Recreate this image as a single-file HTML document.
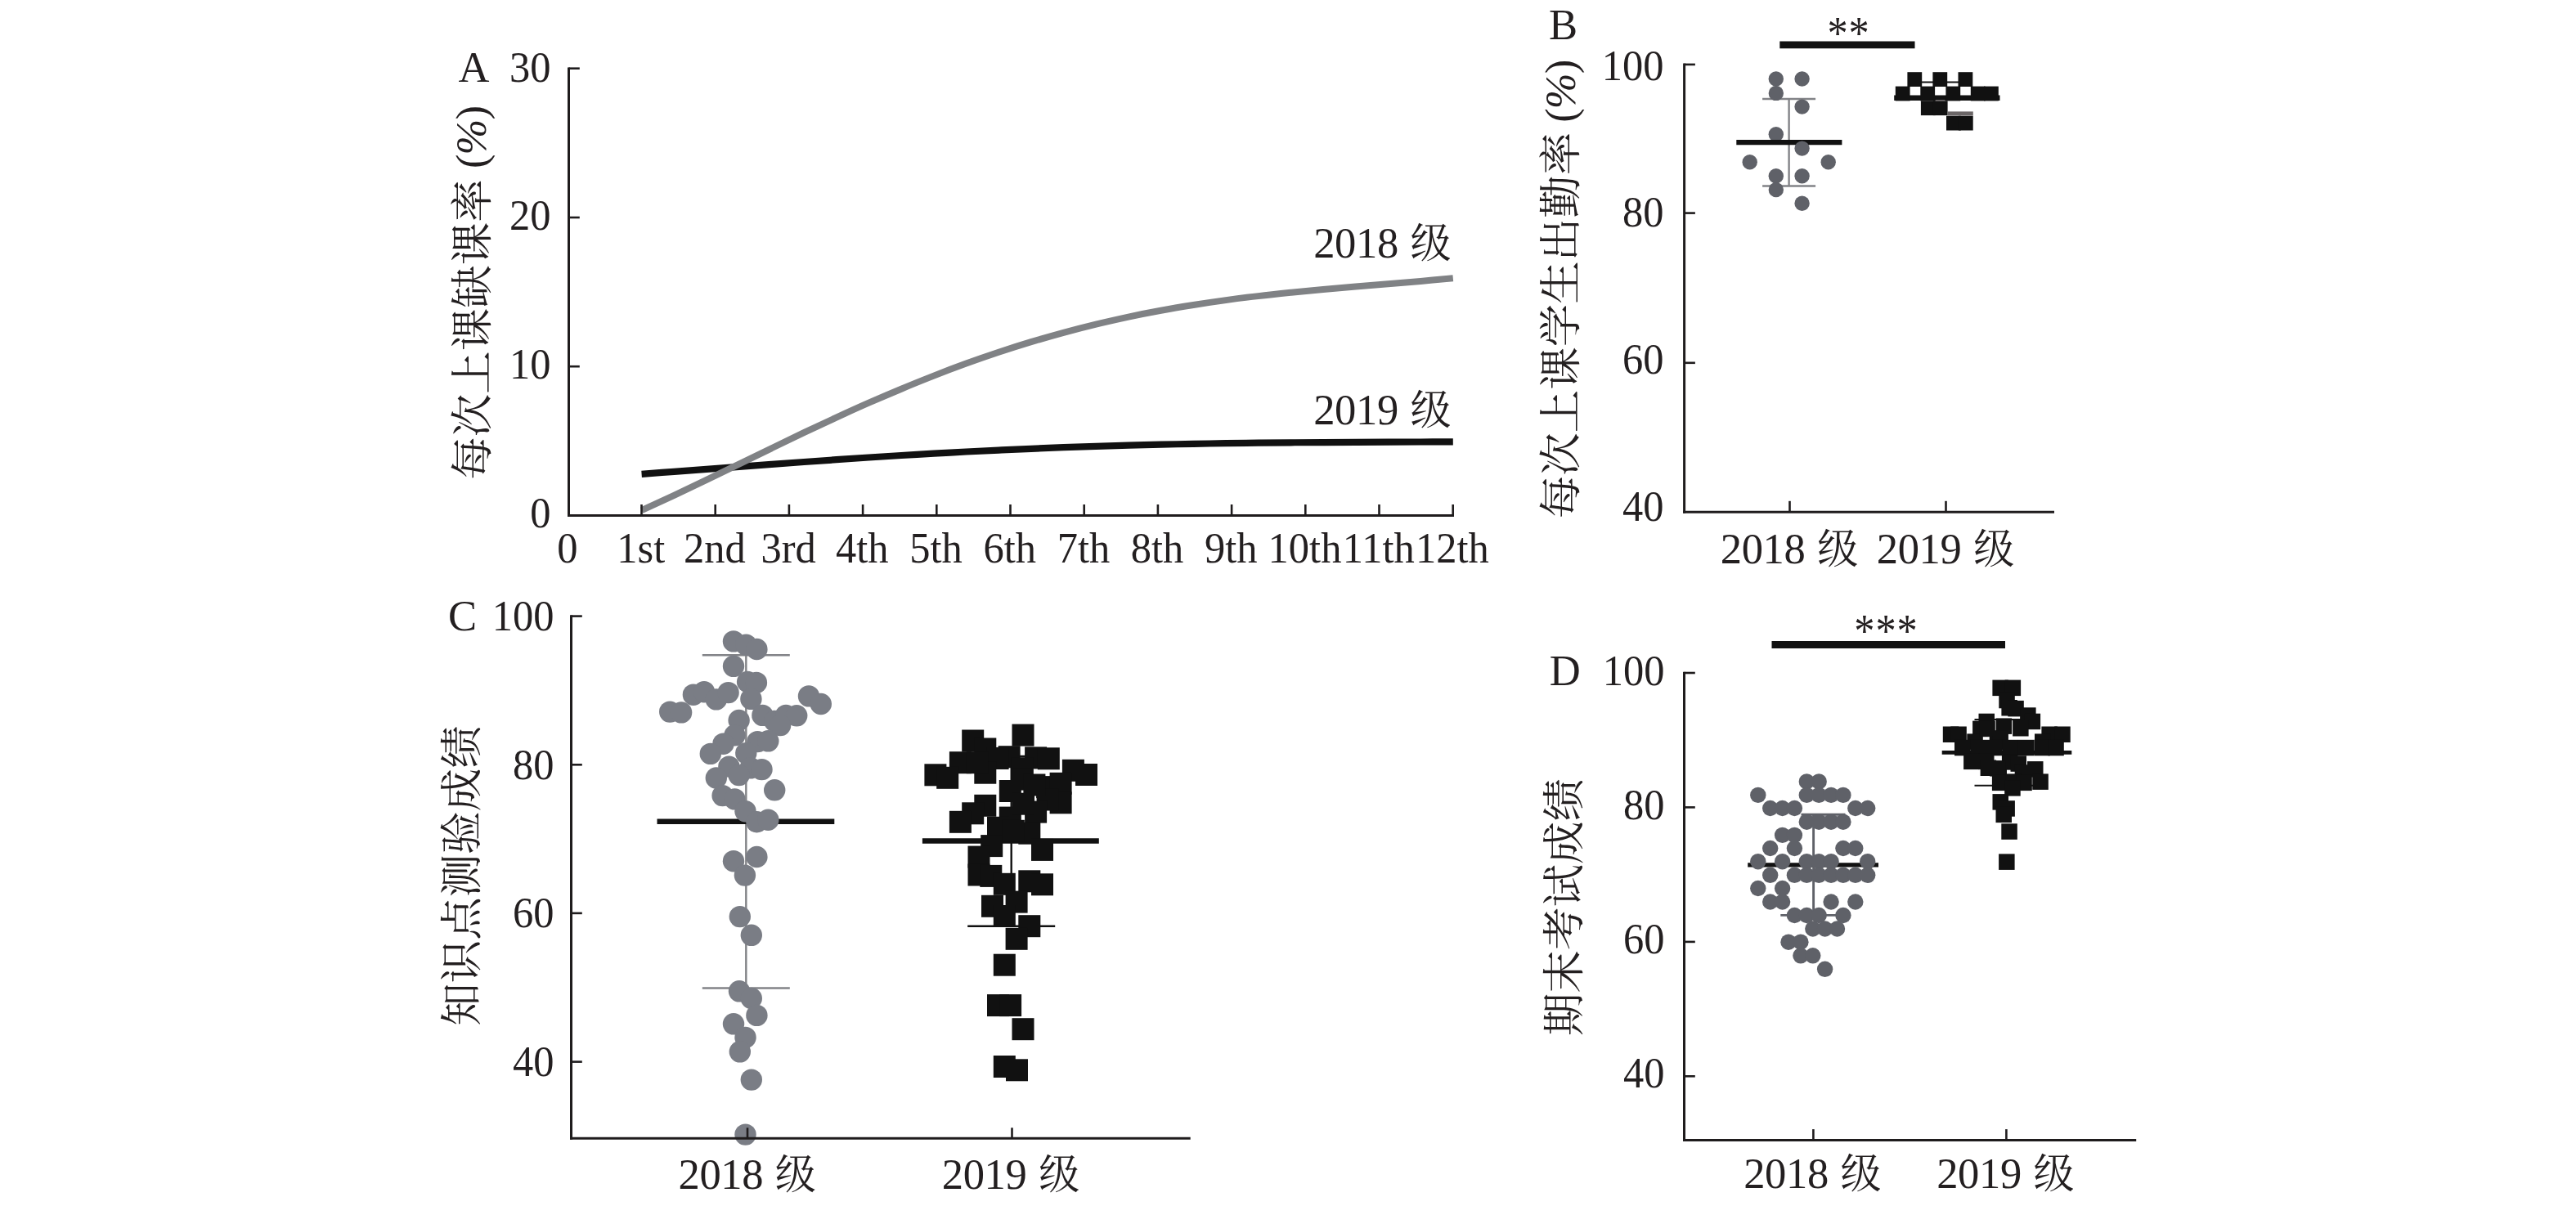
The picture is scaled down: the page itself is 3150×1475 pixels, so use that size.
<!DOCTYPE html>
<html lang="zh-CN">
<head>
<meta charset="utf-8">
<title>Figure</title>
<style>
html,body{margin:0;padding:0;background:#fff;}
body{width:3150px;height:1475px;overflow:hidden;}
svg{display:block;}
.t{font-family:"Liberation Serif","Noto Serif CJK SC",serif;fill:#231f20;}
.c{font-family:"Noto Serif CJK SC","Liberation Serif",serif;font-weight:400;font-size:52.5px;}
.l{font-family:"Liberation Serif","Noto Serif CJK SC",serif;font-size:52.6px;letter-spacing:-0.85px;}
</style>
</head>
<body>
<svg width="3150" height="1475" viewBox="0 0 3150 1475">
<rect x="0" y="0" width="3150" height="1475" fill="#ffffff"/>
<g id="panelA">
<path d="M784.6,579.8 C791.2,579.3 811.1,577.8 824.3,576.8 C837.5,575.8 850.7,574.8 864.0,573.8 C877.2,572.8 890.4,571.8 903.7,570.8 C916.9,569.8 930.1,568.8 943.4,567.9 C956.6,566.9 969.8,565.9 983.0,565.0 C996.3,564.0 1009.5,563.1 1022.7,562.2 C1036.0,561.3 1049.2,560.4 1062.4,559.5 C1075.6,558.7 1088.9,557.8 1102.1,557.0 C1115.3,556.2 1128.6,555.4 1141.8,554.7 C1155.0,554.0 1168.3,553.2 1181.5,552.5 C1194.7,551.9 1207.9,551.2 1221.2,550.6 C1234.4,549.9 1247.6,549.4 1260.9,548.8 C1274.1,548.2 1287.3,547.7 1300.5,547.2 C1313.8,546.7 1327.0,546.3 1340.2,545.9 C1353.5,545.4 1366.7,545.0 1379.9,544.7 C1393.1,544.3 1406.4,544.0 1419.6,543.7 C1432.8,543.4 1446.1,543.1 1459.3,542.9 C1472.5,542.6 1485.8,542.4 1499.0,542.2 C1512.2,542.0 1525.4,541.9 1538.7,541.7 C1551.9,541.6 1565.1,541.5 1578.4,541.3 C1591.6,541.2 1604.8,541.1 1618.0,541.1 C1631.3,541.0 1644.5,540.9 1657.7,540.8 C1671.0,540.8 1684.2,540.7 1697.4,540.7 C1710.7,540.6 1723.9,540.6 1737.1,540.5 C1750.3,540.4 1770.2,540.3 1776.8,540.3" fill="none" stroke="#111111" stroke-width="8.2"/>
<path d="M784.6,624.2 C791.2,621.2 811.1,612.1 824.3,605.9 C837.5,599.7 850.7,593.3 864.0,586.9 C877.2,580.5 890.4,574.0 903.7,567.6 C916.9,561.2 930.1,554.7 943.4,548.3 C956.6,541.9 969.8,535.5 983.0,529.2 C996.3,522.9 1009.5,516.7 1022.7,510.6 C1036.0,504.5 1049.2,498.5 1062.4,492.7 C1075.6,486.9 1088.9,481.2 1102.1,475.7 C1115.3,470.1 1128.6,464.8 1141.8,459.6 C1155.0,454.4 1168.3,449.4 1181.5,444.6 C1194.7,439.8 1207.9,435.2 1221.2,430.8 C1234.4,426.4 1247.6,422.2 1260.9,418.2 C1274.1,414.2 1287.3,410.4 1300.5,406.8 C1313.8,403.2 1327.0,399.8 1340.2,396.6 C1353.5,393.4 1366.7,390.5 1379.9,387.6 C1393.1,384.8 1406.4,382.2 1419.6,379.8 C1432.8,377.3 1446.1,375.1 1459.3,373.0 C1472.5,370.9 1485.8,368.9 1499.0,367.1 C1512.2,365.3 1525.4,363.6 1538.7,362.1 C1551.9,360.5 1565.1,359.1 1578.4,357.7 C1591.6,356.4 1604.8,355.1 1618.0,353.9 C1631.3,352.7 1644.5,351.6 1657.7,350.5 C1671.0,349.4 1684.2,348.3 1697.4,347.2 C1710.7,346.1 1723.9,345.0 1737.1,343.9 C1750.3,342.7 1770.2,340.9 1776.8,340.3" fill="none" stroke="#808285" stroke-width="8.0"/>
<line x1="695.5" y1="82.4" x2="695.5" y2="632.0" stroke="#1f1c1d" stroke-width="3"/>
<line x1="694.0" y1="630.5" x2="1778.0" y2="630.5" stroke="#1f1c1d" stroke-width="3"/>
<text class="t" transform="translate(673.5,645.0) scale(0.96,1)" text-anchor="end" font-size="52.6">0</text>
<line x1="695.5" y1="448.2" x2="708.8" y2="448.2" stroke="#1f1c1d" stroke-width="2.6"/>
<text class="t" transform="translate(673.5,462.7) scale(0.96,1)" text-anchor="end" font-size="52.6">10</text>
<line x1="695.5" y1="266.0" x2="708.8" y2="266.0" stroke="#1f1c1d" stroke-width="2.6"/>
<text class="t" transform="translate(673.5,281.0) scale(0.96,1)" text-anchor="end" font-size="52.6">20</text>
<line x1="695.5" y1="83.7" x2="708.8" y2="83.7" stroke="#1f1c1d" stroke-width="2.6"/>
<text class="t" transform="translate(673.5,99.5) scale(0.96,1)" text-anchor="end" font-size="52.6">30</text>
<text class="t" transform="translate(693.8,688.0) scale(0.96,1)" text-anchor="middle" font-size="52.6">0</text>
<line x1="784.5" y1="630.5" x2="784.5" y2="617.0" stroke="#1f1c1d" stroke-width="2.6"/>
<text class="t" transform="translate(783.7,688.0) scale(0.96,1)" text-anchor="middle" font-size="52.6">1st</text>
<line x1="874.7" y1="630.5" x2="874.7" y2="617.0" stroke="#1f1c1d" stroke-width="2.6"/>
<text class="t" transform="translate(873.9,688.0) scale(0.96,1)" text-anchor="middle" font-size="52.6">2nd</text>
<line x1="964.9" y1="630.5" x2="964.9" y2="617.0" stroke="#1f1c1d" stroke-width="2.6"/>
<text class="t" transform="translate(964.1,688.0) scale(0.96,1)" text-anchor="middle" font-size="52.6">3rd</text>
<line x1="1055.1" y1="630.5" x2="1055.1" y2="617.0" stroke="#1f1c1d" stroke-width="2.6"/>
<text class="t" transform="translate(1054.3,688.0) scale(0.96,1)" text-anchor="middle" font-size="52.6">4th</text>
<line x1="1145.3" y1="630.5" x2="1145.3" y2="617.0" stroke="#1f1c1d" stroke-width="2.6"/>
<text class="t" transform="translate(1144.5,688.0) scale(0.96,1)" text-anchor="middle" font-size="52.6">5th</text>
<line x1="1235.5" y1="630.5" x2="1235.5" y2="617.0" stroke="#1f1c1d" stroke-width="2.6"/>
<text class="t" transform="translate(1234.7,688.0) scale(0.96,1)" text-anchor="middle" font-size="52.6">6th</text>
<line x1="1325.7" y1="630.5" x2="1325.7" y2="617.0" stroke="#1f1c1d" stroke-width="2.6"/>
<text class="t" transform="translate(1324.9,688.0) scale(0.96,1)" text-anchor="middle" font-size="52.6">7th</text>
<line x1="1415.9" y1="630.5" x2="1415.9" y2="617.0" stroke="#1f1c1d" stroke-width="2.6"/>
<text class="t" transform="translate(1415.1,688.0) scale(0.96,1)" text-anchor="middle" font-size="52.6">8th</text>
<line x1="1506.1" y1="630.5" x2="1506.1" y2="617.0" stroke="#1f1c1d" stroke-width="2.6"/>
<text class="t" transform="translate(1505.3,688.0) scale(0.96,1)" text-anchor="middle" font-size="52.6">9th</text>
<line x1="1596.3" y1="630.5" x2="1596.3" y2="617.0" stroke="#1f1c1d" stroke-width="2.6"/>
<text class="t" transform="translate(1595.5,688.0) scale(0.96,1)" text-anchor="middle" font-size="52.6">10th</text>
<line x1="1686.5" y1="630.5" x2="1686.5" y2="617.0" stroke="#1f1c1d" stroke-width="2.6"/>
<text class="t" transform="translate(1685.7,688.0) scale(0.96,1)" text-anchor="middle" font-size="52.6">11th</text>
<line x1="1776.7" y1="630.5" x2="1776.7" y2="617.0" stroke="#1f1c1d" stroke-width="2.6"/>
<text class="t" transform="translate(1775.9,688.0) scale(0.96,1)" text-anchor="middle" font-size="52.6">12th</text>
<text class="t" transform="translate(560.5,99.8) scale(1.0,1)" text-anchor="start" font-size="52.6">A</text>
<g transform="translate(595.8,586.8) rotate(-90)">
<text class="t c" x="0" y="0" text-anchor="start">每次上课缺课率<tspan class="l" dx="0.90" dy="-1.5"> (<tspan style="font-style:italic">%</tspan>)</tspan></text>
</g>
<text class="t" x="1606.2" y="315.0" text-anchor="start" style="font-size:52.6px;letter-spacing:-0.4px">2018 <tspan class="c" dx="2.0" style="font-size:50px;letter-spacing:0">级</tspan></text>
<text class="t" x="1606.2" y="519.0" text-anchor="start" style="font-size:52.6px;letter-spacing:-0.4px">2019 <tspan class="c" dx="2.0" style="font-size:50px;letter-spacing:0">级</tspan></text>
</g>
<g id="panelB">
<line x1="2187.6" y1="121.0" x2="2187.6" y2="227.5" stroke="#828387" stroke-width="2.4"/>
<line x1="2155.1" y1="121.0" x2="2220.1" y2="121.0" stroke="#828387" stroke-width="2.4"/>
<line x1="2155.1" y1="227.5" x2="2220.1" y2="227.5" stroke="#828387" stroke-width="2.4"/>
<g fill="#5f6168">
<circle cx="2171.8" cy="164.2" r="9.2"/>
</g>
<line x1="2123.3" y1="174.1" x2="2252.4" y2="174.1" stroke="#111111" stroke-width="6.2"/>
<g fill="#5f6168">
<circle cx="2171.8" cy="96.5" r="9.2"/>
<circle cx="2203.6" cy="96.5" r="9.2"/>
<circle cx="2171.8" cy="113.9" r="9.2"/>
<circle cx="2203.6" cy="130.6" r="9.2"/>
<circle cx="2203.6" cy="181.6" r="9.2"/>
<circle cx="2139.7" cy="198.3" r="9.2"/>
<circle cx="2235.7" cy="198.3" r="9.2"/>
<circle cx="2171.8" cy="215.2" r="9.2"/>
<circle cx="2203.6" cy="215.2" r="9.2"/>
<circle cx="2171.8" cy="232.1" r="9.2"/>
<circle cx="2203.6" cy="248.8" r="9.2"/>
</g>
<line x1="2350.0" y1="100.5" x2="2395.0" y2="100.5" stroke="#111111" stroke-width="1.8"/>
<line x1="2316.2" y1="119.8" x2="2445.5" y2="119.8" stroke="#111111" stroke-width="6.6"/>
<g fill="#111111">
<rect x="2332.4" y="88.2" width="17.8" height="17.8"/>
<rect x="2363.4" y="88.2" width="17.8" height="17.8"/>
<rect x="2394.5" y="88.2" width="17.8" height="17.8"/>
<rect x="2317.8" y="105.6" width="17.8" height="17.8"/>
<rect x="2348.3" y="105.6" width="17.8" height="17.8"/>
<rect x="2379.4" y="105.6" width="17.8" height="17.8"/>
<rect x="2409.8" y="105.6" width="17.8" height="17.8"/>
<rect x="2426.0" y="105.6" width="17.8" height="17.8"/>
<rect x="2348.9" y="123.3" width="17.8" height="17.8"/>
<rect x="2363.8" y="123.3" width="17.8" height="17.8"/>
<rect x="2380.0" y="141.7" width="17.8" height="17.8"/>
<rect x="2394.9" y="141.7" width="17.8" height="17.8"/>
</g>
<rect x="2381.7" y="136.4" width="31.1" height="5" fill="#6b6667"/>
<rect x="2366.7" y="122.0" width="11.7" height="1.4" fill="#6b6667"/>
<line x1="2059.6" y1="77.6" x2="2059.6" y2="627.8" stroke="#1f1c1d" stroke-width="3"/>
<line x1="2058.1" y1="626.3" x2="2512.0" y2="626.3" stroke="#1f1c1d" stroke-width="3"/>
<text class="t" transform="translate(2034.6,636.7) scale(0.96,1)" text-anchor="end" font-size="52.6">40</text>
<line x1="2059.6" y1="443.8" x2="2072.9" y2="443.8" stroke="#1f1c1d" stroke-width="2.6"/>
<text class="t" transform="translate(2034.6,457.0) scale(0.96,1)" text-anchor="end" font-size="52.6">60</text>
<line x1="2059.6" y1="260.6" x2="2072.9" y2="260.6" stroke="#1f1c1d" stroke-width="2.6"/>
<text class="t" transform="translate(2034.6,277.1) scale(0.96,1)" text-anchor="end" font-size="52.6">80</text>
<line x1="2059.6" y1="78.9" x2="2072.9" y2="78.9" stroke="#1f1c1d" stroke-width="2.6"/>
<text class="t" transform="translate(2034.6,98.0) scale(0.96,1)" text-anchor="end" font-size="52.6">100</text>
<line x1="2188.5" y1="626.3" x2="2188.5" y2="612.8" stroke="#1f1c1d" stroke-width="2.6"/>
<text class="t" x="2103.8" y="689.2" text-anchor="start" style="font-size:52.6px;letter-spacing:-0.4px">2018 <tspan class="c" dx="2.0" style="font-size:50px;letter-spacing:0">级</tspan></text>
<line x1="2379.5" y1="626.3" x2="2379.5" y2="612.8" stroke="#1f1c1d" stroke-width="2.6"/>
<text class="t" x="2294.8" y="689.2" text-anchor="start" style="font-size:52.6px;letter-spacing:-0.4px">2019 <tspan class="c" dx="2.0" style="font-size:50px;letter-spacing:0">级</tspan></text>
<text class="t" transform="translate(1894.0,47.5) scale(1.0,1)" text-anchor="start" font-size="52.6">B</text>
<g transform="translate(1927.0,634.3) rotate(-90)">
<text class="t c" x="0" y="0" text-anchor="start">每次上课学生出勤率<tspan class="l" dx="-0.30" dy="-1.5"> (<tspan style="font-style:italic">%</tspan>)</tspan></text>
</g>
<line x1="2176.3" y1="54.9" x2="2341.5" y2="54.9" stroke="#111111" stroke-width="8.8"/>
<text class="t" transform="translate(2260.5,60.0) scale(0.9,1)" text-anchor="middle" font-size="56" letter-spacing="1">**</text>
</g>
<g id="panelC">
<line x1="912.3" y1="801.3" x2="912.3" y2="1208.5" stroke="#828387" stroke-width="2.4"/>
<line x1="858.8" y1="801.3" x2="965.8" y2="801.3" stroke="#828387" stroke-width="2.4"/>
<line x1="858.8" y1="1208.5" x2="965.8" y2="1208.5" stroke="#828387" stroke-width="2.4"/>
<line x1="803.5" y1="1004.8" x2="1020.3" y2="1004.8" stroke="#111111" stroke-width="6.5"/>
<g fill="#7a7d85">
<circle cx="897.0" cy="784.4" r="13.2"/>
<circle cx="912.3" cy="788.7" r="13.2"/>
<circle cx="925.4" cy="794.0" r="13.2"/>
<circle cx="897.0" cy="814.8" r="13.2"/>
<circle cx="914.1" cy="834.0" r="13.2"/>
<circle cx="924.9" cy="834.9" r="13.2"/>
<circle cx="918.4" cy="854.9" r="13.2"/>
<circle cx="847.9" cy="849.7" r="13.2"/>
<circle cx="861.0" cy="846.2" r="13.2"/>
<circle cx="875.8" cy="855.4" r="13.2"/>
<circle cx="890.6" cy="847.1" r="13.2"/>
<circle cx="819.2" cy="870.6" r="13.2"/>
<circle cx="833.1" cy="871.4" r="13.2"/>
<circle cx="989.0" cy="851.4" r="13.2"/>
<circle cx="1003.8" cy="861.0" r="13.2"/>
<circle cx="903.6" cy="881.0" r="13.2"/>
<circle cx="932.4" cy="874.9" r="13.2"/>
<circle cx="947.2" cy="881.9" r="13.2"/>
<circle cx="961.1" cy="874.9" r="13.2"/>
<circle cx="974.2" cy="875.3" r="13.2"/>
<circle cx="954.1" cy="887.1" r="13.2"/>
<circle cx="898.4" cy="899.3" r="13.2"/>
<circle cx="884.5" cy="909.7" r="13.2"/>
<circle cx="868.8" cy="921.9" r="13.2"/>
<circle cx="926.3" cy="907.1" r="13.2"/>
<circle cx="939.3" cy="906.3" r="13.2"/>
<circle cx="912.3" cy="921.1" r="13.2"/>
<circle cx="891.4" cy="937.6" r="13.2"/>
<circle cx="917.6" cy="939.3" r="13.2"/>
<circle cx="931.5" cy="941.1" r="13.2"/>
<circle cx="875.8" cy="951.5" r="13.2"/>
<circle cx="903.6" cy="948.1" r="13.2"/>
<circle cx="947.2" cy="966.3" r="13.2"/>
<circle cx="883.6" cy="973.1" r="13.2"/>
<circle cx="898.4" cy="977.4" r="13.2"/>
<circle cx="911.5" cy="992.2" r="13.2"/>
<circle cx="925.4" cy="1005.3" r="13.2"/>
<circle cx="939.3" cy="1002.7" r="13.2"/>
<circle cx="897.0" cy="1053.2" r="13.2"/>
<circle cx="925.4" cy="1048.0" r="13.2"/>
<circle cx="910.9" cy="1070.6" r="13.2"/>
<circle cx="904.8" cy="1121.1" r="13.2"/>
<circle cx="918.8" cy="1143.8" r="13.2"/>
<circle cx="904.0" cy="1212.3" r="13.2"/>
<circle cx="918.8" cy="1221.0" r="13.2"/>
<circle cx="925.4" cy="1241.9" r="13.2"/>
<circle cx="897.0" cy="1252.3" r="13.2"/>
<circle cx="911.5" cy="1268.9" r="13.2"/>
<circle cx="904.8" cy="1286.3" r="13.2"/>
<circle cx="918.8" cy="1320.6" r="13.2"/>
<circle cx="911.5" cy="1387.6" r="13.2"/>
</g>
<line x1="1236.7" y1="925.0" x2="1236.7" y2="1132.8" stroke="#111111" stroke-width="2.4"/>
<line x1="1183.2" y1="925.0" x2="1290.2" y2="925.0" stroke="#111111" stroke-width="2.4"/>
<line x1="1183.2" y1="1132.8" x2="1290.2" y2="1132.8" stroke="#111111" stroke-width="2.4"/>
<line x1="1127.9" y1="1028.5" x2="1343.8" y2="1028.5" stroke="#111111" stroke-width="6.5"/>
<g fill="#111111">
<rect x="1237.5" y="885.6" width="27" height="27"/>
<rect x="1176.2" y="892.5" width="27" height="27"/>
<rect x="1191.3" y="902.5" width="27" height="27"/>
<rect x="1160.9" y="919.2" width="27" height="27"/>
<rect x="1220.6" y="912.2" width="27" height="27"/>
<rect x="1206.6" y="914.0" width="27" height="27"/>
<rect x="1253.1" y="913.4" width="27" height="27"/>
<rect x="1268.8" y="914.3" width="27" height="27"/>
<rect x="1130.4" y="934.3" width="27" height="27"/>
<rect x="1145.2" y="937.8" width="27" height="27"/>
<rect x="1298.9" y="928.8" width="27" height="27"/>
<rect x="1315.0" y="934.0" width="27" height="27"/>
<rect x="1191.3" y="931.7" width="27" height="27"/>
<rect x="1236.6" y="926.2" width="27" height="27"/>
<rect x="1236.6" y="939.6" width="27" height="27"/>
<rect x="1221.8" y="954.0" width="27" height="27"/>
<rect x="1267.1" y="949.1" width="27" height="27"/>
<rect x="1283.6" y="944.8" width="27" height="27"/>
<rect x="1283.6" y="968.3" width="27" height="27"/>
<rect x="1267.6" y="964.5" width="27" height="27"/>
<rect x="1191.3" y="971.8" width="27" height="27"/>
<rect x="1176.2" y="981.3" width="27" height="27"/>
<rect x="1160.9" y="991.8" width="27" height="27"/>
<rect x="1221.8" y="986.6" width="27" height="27"/>
<rect x="1253.1" y="979.6" width="27" height="27"/>
<rect x="1238.0" y="969.7" width="27" height="27"/>
<rect x="1207.0" y="998.8" width="27" height="27"/>
<rect x="1245.3" y="1005.7" width="27" height="27"/>
<rect x="1199.2" y="1021.1" width="27" height="27"/>
<rect x="1261.0" y="1025.9" width="27" height="27"/>
<rect x="1183.5" y="1034.6" width="27" height="27"/>
<rect x="1183.5" y="1056.5" width="27" height="27"/>
<rect x="1198.3" y="1057.9" width="27" height="27"/>
<rect x="1214.8" y="1067.8" width="27" height="27"/>
<rect x="1245.3" y="1064.3" width="27" height="27"/>
<rect x="1261.0" y="1068.3" width="27" height="27"/>
<rect x="1200.0" y="1094.8" width="27" height="27"/>
<rect x="1229.6" y="1089.6" width="27" height="27"/>
<rect x="1214.8" y="1107.0" width="27" height="27"/>
<rect x="1245.3" y="1119.2" width="27" height="27"/>
<rect x="1229.6" y="1134.8" width="27" height="27"/>
<rect x="1214.8" y="1166.7" width="27" height="27"/>
<rect x="1207.0" y="1216.1" width="27" height="27"/>
<rect x="1222.1" y="1216.1" width="27" height="27"/>
<rect x="1237.5" y="1245.2" width="27" height="27"/>
<rect x="1214.8" y="1291.0" width="27" height="27"/>
<rect x="1230.0" y="1295.3" width="27" height="27"/>
<rect x="1181.7" y="919.2" width="27" height="27"/>
<rect x="1251.4" y="946.5" width="27" height="27"/>
<rect x="1225.8" y="1002.8" width="27" height="27"/>
</g>
<line x1="698.5" y1="752.3" x2="698.5" y2="1393.8" stroke="#1f1c1d" stroke-width="3"/>
<line x1="697.0" y1="1392.3" x2="1455.7" y2="1392.3" stroke="#1f1c1d" stroke-width="3"/>
<line x1="698.5" y1="1298.6" x2="711.8" y2="1298.6" stroke="#1f1c1d" stroke-width="2.6"/>
<text class="t" transform="translate(677.5,1316.1) scale(0.96,1)" text-anchor="end" font-size="52.6">40</text>
<line x1="698.5" y1="1116.9" x2="711.8" y2="1116.9" stroke="#1f1c1d" stroke-width="2.6"/>
<text class="t" transform="translate(677.5,1134.4) scale(0.96,1)" text-anchor="end" font-size="52.6">60</text>
<line x1="698.5" y1="935.3" x2="711.8" y2="935.3" stroke="#1f1c1d" stroke-width="2.6"/>
<text class="t" transform="translate(677.5,952.8) scale(0.96,1)" text-anchor="end" font-size="52.6">80</text>
<line x1="698.5" y1="753.6" x2="711.8" y2="753.6" stroke="#1f1c1d" stroke-width="2.6"/>
<text class="t" transform="translate(677.5,771.1) scale(0.96,1)" text-anchor="end" font-size="52.6">100</text>
<line x1="914.0" y1="1392.3" x2="914.0" y2="1379.3" stroke="#1f1c1d" stroke-width="2.6"/>
<text class="t" x="829.5" y="1453.7" text-anchor="start" style="font-size:52.6px;letter-spacing:-0.4px">2018 <tspan class="c" dx="2.0" style="font-size:50px;letter-spacing:0">级</tspan></text>
<line x1="1237.5" y1="1392.3" x2="1237.5" y2="1379.3" stroke="#1f1c1d" stroke-width="2.6"/>
<text class="t" x="1151.8" y="1453.7" text-anchor="start" style="font-size:52.6px;letter-spacing:-0.4px">2019 <tspan class="c" dx="2.0" style="font-size:50px;letter-spacing:0">级</tspan></text>
<text class="t" transform="translate(548.0,771.0) scale(1.0,1)" text-anchor="start" font-size="52.6">C</text>
<g transform="translate(583.0,1254.8) rotate(-90)">
<text class="t c" x="0" y="0" text-anchor="start">知识点测验成绩</text>
</g>
</g>
<g id="panelD">
<line x1="2137.2" y1="1057.9" x2="2297.0" y2="1057.9" stroke="#111111" stroke-width="5.2"/>
<line x1="2217.6" y1="996.3" x2="2217.6" y2="1119.4" stroke="#5f6168" stroke-width="2.9"/>
<line x1="2202.5" y1="996.3" x2="2256.5" y2="996.3" stroke="#5f6168" stroke-width="2.9"/>
<line x1="2177.3" y1="1119.4" x2="2251.7" y2="1119.4" stroke="#5f6168" stroke-width="2.9"/>
<g fill="#5f6168">
<circle cx="2209.3" cy="955.9" r="9.7"/>
<circle cx="2224.2" cy="955.9" r="9.7"/>
<circle cx="2149.8" cy="972.4" r="9.7"/>
<circle cx="2209.3" cy="972.4" r="9.7"/>
<circle cx="2224.2" cy="972.4" r="9.7"/>
<circle cx="2239.1" cy="972.4" r="9.7"/>
<circle cx="2253.9" cy="972.4" r="9.7"/>
<circle cx="2164.7" cy="988.5" r="9.7"/>
<circle cx="2179.6" cy="988.5" r="9.7"/>
<circle cx="2194.4" cy="988.5" r="9.7"/>
<circle cx="2268.8" cy="988.5" r="9.7"/>
<circle cx="2283.7" cy="988.5" r="9.7"/>
<circle cx="2209.3" cy="1005.2" r="9.7"/>
<circle cx="2224.2" cy="1005.2" r="9.7"/>
<circle cx="2239.1" cy="1005.2" r="9.7"/>
<circle cx="2253.9" cy="1005.2" r="9.7"/>
<circle cx="2179.6" cy="1021.4" r="9.7"/>
<circle cx="2194.4" cy="1021.4" r="9.7"/>
<circle cx="2164.7" cy="1037.5" r="9.7"/>
<circle cx="2194.4" cy="1037.5" r="9.7"/>
<circle cx="2253.9" cy="1037.5" r="9.7"/>
<circle cx="2268.8" cy="1037.5" r="9.7"/>
<circle cx="2149.8" cy="1053.7" r="9.7"/>
<circle cx="2179.6" cy="1053.7" r="9.7"/>
<circle cx="2209.3" cy="1053.7" r="9.7"/>
<circle cx="2224.2" cy="1053.7" r="9.7"/>
<circle cx="2239.1" cy="1053.7" r="9.7"/>
<circle cx="2283.7" cy="1053.7" r="9.7"/>
<circle cx="2164.7" cy="1070.3" r="9.7"/>
<circle cx="2194.4" cy="1070.3" r="9.7"/>
<circle cx="2209.3" cy="1070.3" r="9.7"/>
<circle cx="2224.2" cy="1070.3" r="9.7"/>
<circle cx="2239.1" cy="1070.3" r="9.7"/>
<circle cx="2253.9" cy="1070.3" r="9.7"/>
<circle cx="2268.8" cy="1070.3" r="9.7"/>
<circle cx="2283.7" cy="1070.3" r="9.7"/>
<circle cx="2149.8" cy="1086.5" r="9.7"/>
<circle cx="2179.6" cy="1086.5" r="9.7"/>
<circle cx="2164.7" cy="1103.0" r="9.7"/>
<circle cx="2179.6" cy="1103.0" r="9.7"/>
<circle cx="2239.1" cy="1103.0" r="9.7"/>
<circle cx="2268.8" cy="1103.0" r="9.7"/>
<circle cx="2194.4" cy="1119.5" r="9.7"/>
<circle cx="2209.3" cy="1119.5" r="9.7"/>
<circle cx="2224.2" cy="1119.5" r="9.7"/>
<circle cx="2253.9" cy="1119.5" r="9.7"/>
<circle cx="2216.8" cy="1136.0" r="9.7"/>
<circle cx="2231.6" cy="1136.0" r="9.7"/>
<circle cx="2246.5" cy="1136.0" r="9.7"/>
<circle cx="2187.0" cy="1152.2" r="9.7"/>
<circle cx="2201.9" cy="1152.2" r="9.7"/>
<circle cx="2201.9" cy="1168.8" r="9.7"/>
<circle cx="2216.8" cy="1168.8" r="9.7"/>
<circle cx="2231.6" cy="1185.3" r="9.7"/>
</g>
<line x1="2453.0" y1="880.0" x2="2453.0" y2="960.7" stroke="#111111" stroke-width="2.0"/>
<line x1="2414.5" y1="880.0" x2="2491.5" y2="880.0" stroke="#111111" stroke-width="2.0"/>
<line x1="2414.5" y1="960.7" x2="2491.5" y2="960.7" stroke="#111111" stroke-width="2.0"/>
<line x1="2374.7" y1="920.3" x2="2533.3" y2="920.3" stroke="#111111" stroke-width="4.8"/>
<g fill="#111111">
<rect x="2436.4" y="831.6" width="19.5" height="19.5"/>
<rect x="2451.6" y="831.6" width="19.5" height="19.5"/>
<rect x="2444.3" y="846.8" width="19.5" height="19.5"/>
<rect x="2447.4" y="856.0" width="19.5" height="19.5"/>
<rect x="2455.3" y="856.9" width="19.5" height="19.5"/>
<rect x="2470.1" y="865.3" width="19.5" height="19.5"/>
<rect x="2475.6" y="872.7" width="19.5" height="19.5"/>
<rect x="2419.5" y="872.7" width="19.5" height="19.5"/>
<rect x="2412.1" y="881.6" width="19.5" height="19.5"/>
<rect x="2440.6" y="878.4" width="19.5" height="19.5"/>
<rect x="2461.1" y="881.0" width="19.5" height="19.5"/>
<rect x="2375.8" y="888.5" width="19.5" height="19.5"/>
<rect x="2385.3" y="888.5" width="19.5" height="19.5"/>
<rect x="2496.4" y="888.5" width="19.5" height="19.5"/>
<rect x="2512.2" y="888.5" width="19.5" height="19.5"/>
<rect x="2405.3" y="897.4" width="19.5" height="19.5"/>
<rect x="2432.7" y="897.9" width="19.5" height="19.5"/>
<rect x="2436.4" y="893.2" width="19.5" height="19.5"/>
<rect x="2488.0" y="897.4" width="19.5" height="19.5"/>
<rect x="2420.3" y="881.6" width="19.5" height="19.5"/>
<rect x="2390.0" y="904.8" width="19.5" height="19.5"/>
<rect x="2409.5" y="904.8" width="19.5" height="19.5"/>
<rect x="2429.0" y="904.8" width="19.5" height="19.5"/>
<rect x="2448.5" y="904.8" width="19.5" height="19.5"/>
<rect x="2467.9" y="904.8" width="19.5" height="19.5"/>
<rect x="2487.4" y="904.8" width="19.5" height="19.5"/>
<rect x="2504.3" y="904.8" width="19.5" height="19.5"/>
<rect x="2401.1" y="921.6" width="19.5" height="19.5"/>
<rect x="2419.0" y="921.6" width="19.5" height="19.5"/>
<rect x="2447.9" y="922.2" width="19.5" height="19.5"/>
<rect x="2458.5" y="924.3" width="19.5" height="19.5"/>
<rect x="2479.0" y="931.1" width="19.5" height="19.5"/>
<rect x="2421.6" y="929.5" width="19.5" height="19.5"/>
<rect x="2433.2" y="930.1" width="19.5" height="19.5"/>
<rect x="2463.7" y="935.3" width="19.5" height="19.5"/>
<rect x="2435.9" y="947.6" width="19.5" height="19.5"/>
<rect x="2452.2" y="946.4" width="19.5" height="19.5"/>
<rect x="2485.3" y="946.4" width="19.5" height="19.5"/>
<rect x="2465.3" y="947.6" width="19.5" height="19.5"/>
<rect x="2451.2" y="954.1" width="19.5" height="19.5"/>
<rect x="2436.5" y="971.1" width="19.5" height="19.5"/>
<rect x="2444.4" y="979.2" width="19.5" height="19.5"/>
<rect x="2440.5" y="986.6" width="19.5" height="19.5"/>
<rect x="2447.3" y="1007.3" width="19.5" height="19.5"/>
<rect x="2444.1" y="1044.4" width="19.5" height="19.5"/>
</g>
<line x1="2059.5" y1="821.7" x2="2059.5" y2="1396.1" stroke="#1f1c1d" stroke-width="3"/>
<line x1="2058.0" y1="1394.6" x2="2612.2" y2="1394.6" stroke="#1f1c1d" stroke-width="3"/>
<line x1="2059.5" y1="1316.3" x2="2072.8" y2="1316.3" stroke="#1f1c1d" stroke-width="2.6"/>
<text class="t" transform="translate(2035.5,1329.6) scale(0.96,1)" text-anchor="end" font-size="52.6">40</text>
<line x1="2059.5" y1="1151.9" x2="2072.8" y2="1151.9" stroke="#1f1c1d" stroke-width="2.6"/>
<text class="t" transform="translate(2035.5,1165.7) scale(0.96,1)" text-anchor="end" font-size="52.6">60</text>
<line x1="2059.5" y1="987.4" x2="2072.8" y2="987.4" stroke="#1f1c1d" stroke-width="2.6"/>
<text class="t" transform="translate(2035.5,1002.3) scale(0.96,1)" text-anchor="end" font-size="52.6">80</text>
<line x1="2059.5" y1="823.0" x2="2072.8" y2="823.0" stroke="#1f1c1d" stroke-width="2.6"/>
<text class="t" transform="translate(2035.5,838.3) scale(0.96,1)" text-anchor="end" font-size="52.6">100</text>
<line x1="2217.4" y1="1394.6" x2="2217.4" y2="1381.1" stroke="#1f1c1d" stroke-width="2.6"/>
<text class="t" x="2132.2" y="1453.0" text-anchor="start" style="font-size:52.6px;letter-spacing:-0.4px">2018 <tspan class="c" dx="2.0" style="font-size:50px;letter-spacing:0">级</tspan></text>
<line x1="2453.4" y1="1394.6" x2="2453.4" y2="1381.1" stroke="#1f1c1d" stroke-width="2.6"/>
<text class="t" x="2368.2" y="1453.0" text-anchor="start" style="font-size:52.6px;letter-spacing:-0.4px">2019 <tspan class="c" dx="2.0" style="font-size:50px;letter-spacing:0">级</tspan></text>
<text class="t" transform="translate(1894.8,838.0) scale(1.0,1)" text-anchor="start" font-size="52.6">D</text>
<g transform="translate(1931.3,1267.0) rotate(-90)">
<text class="t c" x="0" y="0" text-anchor="start">期末考试成绩</text>
</g>
<line x1="2166.5" y1="788.5" x2="2452.0" y2="788.5" stroke="#111111" stroke-width="9"/>
<text class="t" transform="translate(2306.5,791.2) scale(0.9,1)" text-anchor="middle" font-size="56" letter-spacing="1">***</text>
</g>
</svg>
</body>
</html>
